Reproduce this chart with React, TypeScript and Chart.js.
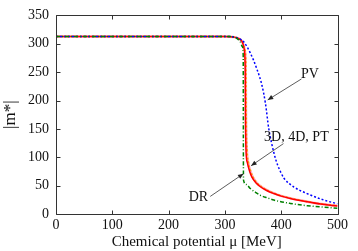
import React, { useEffect, useRef } from "react";
import { Chart, registerables } from "chart.js";

Chart.register(...registerables);

// μ [MeV] and |m*| [MeV]
const muPV = [0, 300, 315, 325, 333, 345, 357, 366, 372, 378, 387, 393, 400, 405, 422, 446, 476, 500];
const mPV = [313, 313, 312, 309, 304, 284, 255, 226, 195, 150, 108, 88, 72, 63, 48, 36, 24.5, 18];

const mu3D = [0, 300, 315, 325, 331, 334, 336, 336.5, 337.5, 340, 344, 348, 355, 363, 375, 387, 400, 416, 446, 470, 500];
const m3D = [313, 313, 312, 309, 303, 292, 260, 170, 112, 90, 75, 65, 55, 48, 41, 36, 31.5, 27.5, 21.6, 17.5, 14];

const mu4D = [0, 300, 315, 325, 331, 335, 337.5, 338, 339.5, 342, 346, 350, 357, 365, 377, 389, 402, 418, 448, 472, 500];
const m4D = [313, 313, 312, 309, 303, 292, 260, 170, 112, 90, 75, 65, 55, 48, 41, 36, 31.5, 27.5, 21.6, 17.5, 14.6];

const muPT = [0, 300, 315, 325, 331, 334.5, 337, 337.5, 339, 341.5, 345.5, 349.5, 356.5, 364.5, 376.5, 388.5, 401.5, 417.5, 447.5, 471.5, 500];
const mPT = [313, 313, 312, 309, 303, 292, 260, 170, 112, 90, 75, 65, 55, 48, 41, 36, 31.5, 27.5, 21.6, 17.5, 14.3];

const muDR = [0, 300, 315, 322, 327, 331, 332.5, 333, 338, 345, 354, 363, 375, 387, 416, 446, 475, 500];
const mDR = [313, 313, 312, 309, 304, 295, 280, 60, 52, 45, 38.5, 33, 28.5, 24.5, 18.7, 14.6, 12, 10];

const xTicks = [0, 100, 200, 300, 400, 500];
const yTicks = [0, 50, 100, 150, 200, 250, 300, 350];

// annotation labels: [text, label μ, label m, arrow-from μ, arrow-from m, arrow-to μ, arrow-to m]
const labelText = ["PV", "3D, 4D, PT", "DR"];
const labelMu = [451, 427, 253];
const labelM = [247, 135, 30];
const arrowFromMu = [436, 404, 274];
const arrowFromM = [238, 124, 31];
const arrowToMu = [376, 346.5, 333];
const arrowToM = [201, 85, 71];

const pts = (xs: number[], ys: number[]) => xs.map((x, i) => ({ x, y: ys[i] }));

const SERIF = '"Liberation Serif", "DejaVu Serif", serif';

const framePlugin = {
  id: "frame",
  afterDatasetsDraw(chart: any) {
    const { ctx, chartArea } = chart;
    const { left, right, top, bottom } = chartArea;
    const xs = chart.scales.x;
    const ys = chart.scales.y;
    ctx.save();
    ctx.strokeStyle = "#333";
    ctx.lineWidth = 1;
    ctx.beginPath();
    const L = Math.round(left) + 0.5, R = Math.round(right) + 0.5;
    const T = Math.round(top) + 0.5, B = Math.round(bottom) + 0.5;
    ctx.rect(L, T, R - L, B - T);
    const tl = 4;
    xTicks.forEach((v) => {
      const p = Math.round(xs.getPixelForValue(v)) + 0.5;
      ctx.moveTo(p, B); ctx.lineTo(p, B - tl);
      ctx.moveTo(p, T); ctx.lineTo(p, T + tl);
    });
    yTicks.forEach((v) => {
      const p = Math.round(ys.getPixelForValue(v)) + 0.5;
      ctx.moveTo(L, p); ctx.lineTo(L + tl, p);
      ctx.moveTo(R, p); ctx.lineTo(R - tl, p);
    });
    ctx.stroke();

    // annotations
    ctx.font = `14px ${SERIF}`;
    ctx.fillStyle = "#111";
    ctx.textAlign = "center";
    ctx.textBaseline = "middle";
    labelText.forEach((t, i) => {
      ctx.fillText(t, xs.getPixelForValue(labelMu[i]), ys.getPixelForValue(labelM[i]));
      const x0 = xs.getPixelForValue(arrowFromMu[i]);
      const y0 = ys.getPixelForValue(arrowFromM[i]);
      const x1 = xs.getPixelForValue(arrowToMu[i]);
      const y1 = ys.getPixelForValue(arrowToM[i]);
      ctx.strokeStyle = "#333";
      ctx.lineWidth = 0.8;
      ctx.beginPath();
      ctx.moveTo(x0, y0);
      ctx.lineTo(x1, y1);
      ctx.stroke();
      const ang = Math.atan2(y1 - y0, x1 - x0);
      const hl = 6, hw = 0.4;
      ctx.fillStyle = "#222";
      ctx.beginPath();
      ctx.moveTo(x1, y1);
      ctx.lineTo(x1 - hl * Math.cos(ang - hw), y1 - hl * Math.sin(ang - hw));
      ctx.lineTo(x1 - hl * Math.cos(ang + hw), y1 - hl * Math.sin(ang + hw));
      ctx.closePath();
      ctx.fill();
      ctx.fillStyle = "#111";
    });
    ctx.restore();
  },
};

export default function App() {
  const ref = useRef<HTMLCanvasElement | null>(null);
  useEffect(() => {
    document.body.style.margin = "0";
    const chart = new Chart(ref.current as HTMLCanvasElement, {
      type: "line",
      data: {
        datasets: [
          {
            label: "DR",
            data: pts(muDR, mDR),
            borderColor: "rgb(0,128,0)",
            borderWidth: 1.5,
            borderDash: [4, 2, 1, 2],
          },
          {
            label: "PV",
            data: pts(muPV, mPV),
            borderColor: "rgb(0,0,255)",
            borderWidth: 1.5,
            borderDash: [2, 2],
          },
          {
            label: "3D",
            data: pts(mu3D, m3D),
            borderColor: "rgb(255,0,0)",
            borderWidth: 1.5,
          },
          {
            label: "4D",
            data: pts(mu4D, m4D),
            borderColor: "rgb(255,165,0)",
            borderWidth: 1.5,
            borderDash: [2, 2],
          },
          {
            label: "PT",
            data: pts(muPT, mPT),
            borderColor: "rgba(255,160,185,0.9)",
            borderWidth: 2.5,
          },
        ].map((d) => ({
          ...d,
          pointRadius: 0,
          fill: false,
          cubicInterpolationMode: "monotone" as const,
        })),
      },
      options: {
        animation: false,
        responsive: false,
        devicePixelRatio: 1,
        layout: { padding: { top: 14, right: 20.5, left: 0, bottom: 0 } },
        plugins: { legend: { display: false }, tooltip: { enabled: false } },
        scales: {
          x: {
            type: "linear",
            min: 0,
            max: 500,
            grid: { display: false, drawTicks: false },
            border: { display: false },
            ticks: {
              stepSize: 100,
              color: "#111",
              padding: 3,
              maxRotation: 0,
              font: { family: SERIF, size: 14 },
            },
            title: {
              display: true,
              text: "Chemical potential μ [MeV]",
              color: "#111",
              font: { family: SERIF, size: 15 },
              padding: { top: 0, bottom: 0 },
            },
            afterFit: (s: any) => {
              s.height = 37;
            },
          },
          y: {
            type: "linear",
            min: 0,
            max: 350,
            grid: { display: false, drawTicks: false },
            border: { display: false },
            ticks: {
              stepSize: 50,
              color: "#111",
              padding: 7,
              font: { family: SERIF, size: 14 },
            },
            title: {
              display: true,
              text: "|m*|",
              color: "#111",
              font: { family: SERIF, size: 17 },
              padding: { top: 0, bottom: 0 },
            },
            afterFit: (s: any) => {
              s.width = 56;
            },
          },
        },
      },
      plugins: [framePlugin],
    });
    return () => chart.destroy();
  }, []);
  return (
    <div style={{ position: "fixed", left: 0, top: 0, width: 358, height: 251, background: "#fff" }}>
      <canvas ref={ref} width={358} height={251} style={{ width: 358, height: 251 }} />
    </div>
  );
}
